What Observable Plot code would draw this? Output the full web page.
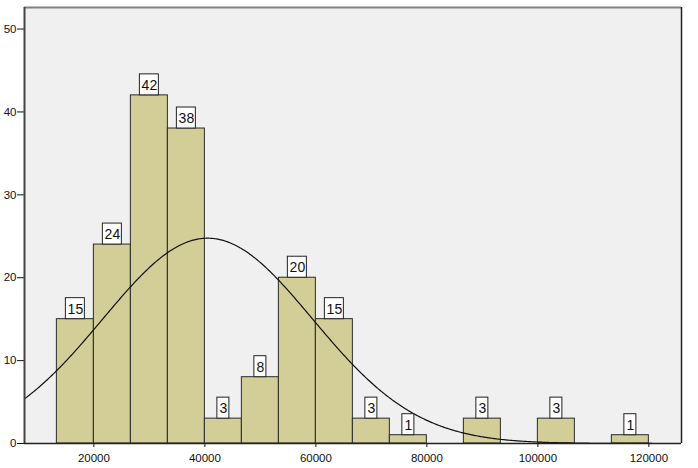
<!DOCTYPE html>
<html><head><meta charset="utf-8">
<script src="https://cdn.jsdelivr.net/npm/d3@7"></script>
<script src="https://cdn.jsdelivr.net/npm/@observablehq/plot@0.6"></script>
<style>body{margin:0;background:#fff} svg{display:block}</style>
</head><body><div id="chart"></div>
<script>
// Histogram bins (lower edges), counts, and fitted normal curve parameters
const binWidth = 20000 / 3;
const binStarts = [13333.33, 20000, 26666.67, 33333.33, 40000, 46666.67, 53333.33, 60000, 66666.67, 73333.33, 86666.67, 100000, 113333.33];
const counts = [15, 24, 42, 38, 3, 8, 20, 15, 3, 1, 3, 3, 1];
const xTicks = [20000, 40000, 60000, 80000, 100000, 120000];
const yTicks = [0, 10, 20, 30, 40, 50];
const xDomain = [7500, 125880];
const yDomain = [0, 52.6];
const curveMean = 40500;
const curveSD = 18900;

const bins = binStarts.map((s, i) => ({x1: s, x2: s + binWidth, mid: s + binWidth / 2, count: counts[i], label: String(counts[i])}));
const n = d3.sum(counts);
const curve = d3.range(xDomain[0], xDomain[1] + 1, 200).map(x => ({
  x, y: n * binWidth * Math.exp(-0.5 * ((x - curveMean) / curveSD) ** 2) / (curveSD * Math.sqrt(2 * Math.PI))
}));

const chart = Plot.plot({
  width: 698, height: 468,
  marginLeft: 24, marginRight: 17, marginTop: 7, marginBottom: 25,
  style: {fontFamily: "'Liberation Sans', Arial, sans-serif", fontSize: "11.5px", background: "white", color: "#111"},
  x: {domain: xDomain, ticks: xTicks, tickFormat: d => String(d), tickSize: 4, tickPadding: 6, label: null, line: false},
  y: {domain: yDomain, ticks: yTicks, tickSize: 7, tickPadding: 1, label: null},
  marks: [
    Plot.frame({fill: "#f0f0f0", stroke: "none"}),
    Plot.rect(bins, {x1: "x1", x2: "x2", y1: 0, y2: "count", fill: "#d3ce97", stroke: "#2a2a2a", strokeWidth: 1}),
    Plot.line(curve, {x: "x", y: "y", stroke: "#111", strokeWidth: 1.2}),
    Plot.rect(bins.filter(d => d.label.length === 1), {x1: "mid", x2: "mid", y1: "count", y2: "count", insetLeft: -6, insetRight: -6, insetTop: -21, insetBottom: 0, fill: "white", stroke: "#222", strokeWidth: 1}),
    Plot.rect(bins.filter(d => d.label.length === 2), {x1: "mid", x2: "mid", y1: "count", y2: "count", insetLeft: -9.5, insetRight: -9.5, insetTop: -21, insetBottom: 0, fill: "white", stroke: "#222", strokeWidth: 1}),
    Plot.text(bins, {x: "mid", y: "count", text: "label", dy: -10, fontSize: 14, fill: "#111"}),
    Plot.ruleY([yDomain[1]], {stroke: "#808080", strokeWidth: 2}),
    Plot.ruleX([xDomain[1]], {stroke: "#222", strokeWidth: 1.5}),
    Plot.ruleX([xDomain[0]], {stroke: "#444", strokeWidth: 2}),
    Plot.ruleY([0], {stroke: "#222", strokeWidth: 1.5})
  ]
});
document.getElementById("chart").appendChild(chart);
</script>
</body></html>
